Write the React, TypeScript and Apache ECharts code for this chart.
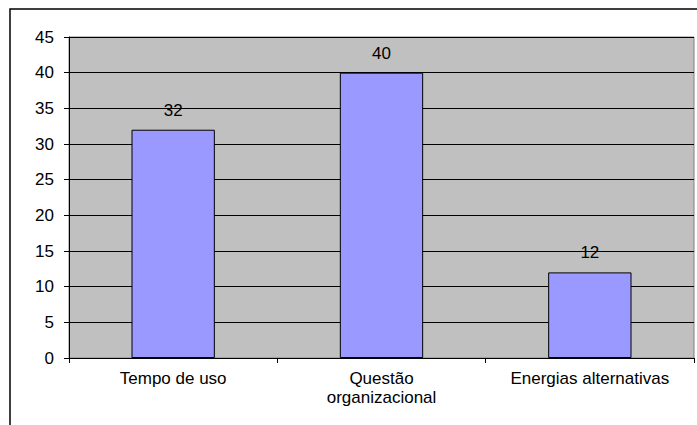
import React, { useEffect, useRef } from "react";
import * as echarts from "echarts";

const categories = ["Tempo de uso", "Questão\norganizacional", "Energias alternativas"];
const values = [32, 40, 12];
const yMin = 0;
const yMax = 45;
const yStep = 5;

const FONT = "Liberation Sans, Arial, sans-serif";
const FONT_SIZE = 17;

export default function App() {
  const ref = useRef<HTMLDivElement>(null);

  useEffect(() => {
    if (!ref.current) return;
    const chart = echarts.init(ref.current, undefined, { renderer: "svg" });
    chart.setOption({
      animation: false,
      backgroundColor: "#ffffff",
      textStyle: { fontFamily: FONT },
      graphic: [
        {
          type: "rect",
          shape: { x: 10, y: 9, width: 720, height: 440 },
          style: { fill: "none", stroke: "#000000", lineWidth: 1.5 },
          silent: true,
        },
      ],
      grid: {
        left: 69,
        top: 37,
        right: 3,
        bottom: 67,
        show: true,
        backgroundColor: "#C0C0C0",
        borderColor: "#808080",
        borderWidth: 1,
        containLabel: false,
      },
      xAxis: {
        type: "category",
        data: categories,
        axisLine: { show: true, lineStyle: { color: "#000000", width: 1 } },
        axisTick: { show: true, length: 5, alignWithLabel: false, lineStyle: { color: "#000000" } },
        axisLabel: {
          color: "#000000",
          fontSize: FONT_SIZE,
          fontFamily: FONT,
          margin: 11,
          lineHeight: 19,
          interval: 0,
        },
        splitLine: { show: false },
      },
      yAxis: {
        type: "value",
        min: yMin,
        max: yMax,
        interval: yStep,
        axisLine: { show: true, lineStyle: { color: "#000000", width: 1 } },
        axisTick: { show: true, length: 5, lineStyle: { color: "#000000" } },
        axisLabel: { color: "#000000", fontSize: FONT_SIZE, fontFamily: FONT, margin: 15 },
        splitLine: { show: true, lineStyle: { color: "#000000", width: 1 } },
      },
      series: [
        {
          type: "bar",
          data: values,
          barWidth: "40%",
          itemStyle: { color: "#9999FF", borderColor: "#000000", borderWidth: 1 },
          label: {
            show: true,
            position: "top",
            distance: 11,
            color: "#000000",
            fontSize: FONT_SIZE,
            fontFamily: FONT,
          },
        },
      ],
    });
    return () => chart.dispose();
  }, []);

  return (
    <div
      ref={ref}
      style={{ position: "absolute", left: 0, top: 0, width: 697, height: 425, background: "#fff" }}
    />
  );
}
